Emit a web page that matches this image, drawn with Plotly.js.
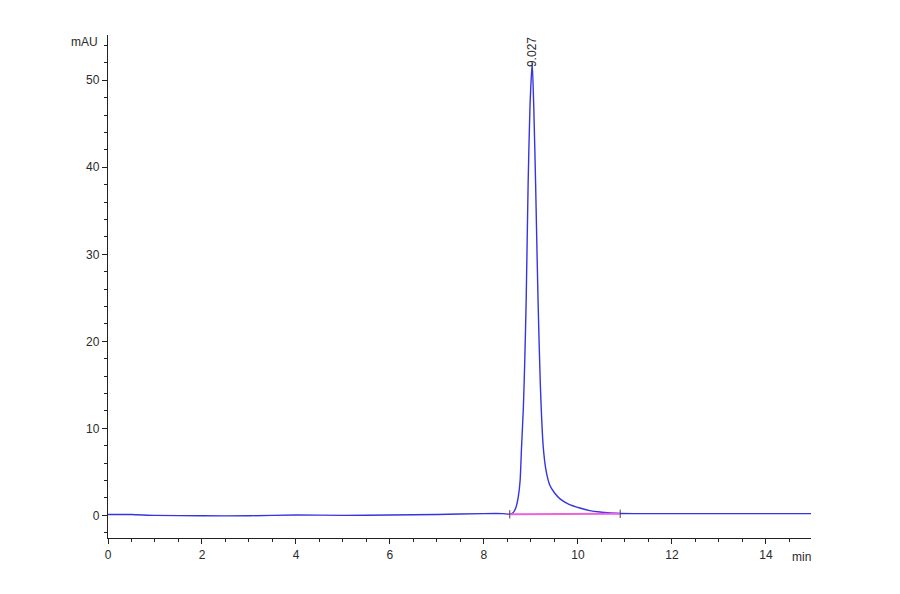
<!DOCTYPE html>
<html>
<head>
<meta charset="utf-8">
<script src="https://cdn.plot.ly/plotly-3.0.1.min.js"></script>
<style>
  html, body { margin: 0; padding: 0; background: #fff; }
  #chart { width: 900px; height: 594px; }
</style>
</head>
<body>
<div id="chart"></div>
<script>
// chromatogram trace (time in min, signal in mAU)
const timeMin = [0, 0.5, 1.0, 2.0, 3.0, 4.0, 5.0, 6.0, 7.0, 8.0, 8.4, 8.55, 8.62, 8.68, 8.73, 8.77,
  8.80, 8.84, 8.87, 8.90, 8.94, 8.98, 9.027, 9.06, 9.10, 9.15, 9.20, 9.26, 9.32, 9.40, 9.50, 9.62,
  9.80, 10.04, 10.25, 10.47, 10.70, 10.90, 11.5, 12.0, 13.0, 14.0, 14.96];
const signalMAU = [0.1, 0.1, 0.0, -0.05, -0.05, 0.05, 0.0, 0.05, 0.1, 0.2, 0.2, 0.15, 0.3, 0.9, 2.1, 4.0,
  7.8, 12.5, 18.0, 25.0, 38.0, 47.0, 52.0, 47.0, 38.0, 25.0, 15.0, 8.0, 5.2, 3.5, 2.6, 1.9,
  1.3, 0.85, 0.55, 0.38, 0.28, 0.22, 0.2, 0.2, 0.2, 0.2, 0.2];

// integration baseline
const baseT = [8.55, 10.9];
const baseV = [0.12, 0.18];

// peak label
const peakT = 9.027;
const peakV = 52.0;
const peakLabel = '9.027';

const axisFont = { family: 'Liberation Sans Narrow, Liberation Sans, Arial, sans-serif', size: 12, color: '#2a2a2a' };

const trace = {
  x: timeMin, y: signalMAU,
  mode: 'lines', type: 'scatter',
  line: { color: '#3535e0', width: 1.4, shape: 'spline', smoothing: 0.6 },
  hoverinfo: 'skip'
};
const base = {
  x: baseT, y: baseV,
  mode: 'lines+markers', type: 'scatter',
  line: { color: '#f060e0', width: 2 },
  marker: { symbol: 'line-ns', size: 6, line: { color: '#444', width: 1 } },
  hoverinfo: 'skip'
};

const layout = {
  width: 900, height: 594,
  margin: { l: 108, r: 89, t: 35, b: 56 },
  paper_bgcolor: '#fff', plot_bgcolor: '#fff',
  showlegend: false,
  xaxis: {
    range: [0, 14.96], dtick: 2, tick0: 0,
    showgrid: false, zeroline: false,
    showline: true, linecolor: '#222', linewidth: 1.2,
    ticks: 'outside', ticklen: 5, tickcolor: '#222',
    minor: { dtick: 0.5, ticks: 'outside', ticklen: 3, tickcolor: '#222', showgrid: false },
    tickfont: axisFont
  },
  yaxis: {
    range: [-2.6, 55.2], dtick: 10, tick0: 0,
    showgrid: false, zeroline: false,
    showline: true, linecolor: '#222', linewidth: 1.2,
    ticks: 'outside', ticklen: 5, tickcolor: '#222',
    minor: { dtick: 2, ticks: 'outside', ticklen: 3, tickcolor: '#222', showgrid: false },
    tickfont: axisFont
  },
  annotations: [
    { x: peakT, y: peakV, text: peakLabel, textangle: -90, showarrow: false,
      xanchor: 'center', yanchor: 'bottom', yshift: -6, font: axisFont },
    { xref: 'paper', yref: 'paper', x: 0, y: 1, text: 'mAU', showarrow: false,
      xanchor: 'right', yanchor: 'middle', xshift: -8, yshift: -7, font: axisFont },
    { xref: 'paper', yref: 'paper', x: 1, y: 0, text: 'min', showarrow: false,
      xanchor: 'right', yanchor: 'top', xshift: 2, yshift: -10, font: axisFont }
  ]
};

Plotly.newPlot('chart', [trace, base], layout, { displayModeBar: false, staticPlot: true });
</script>
</body>
</html>
